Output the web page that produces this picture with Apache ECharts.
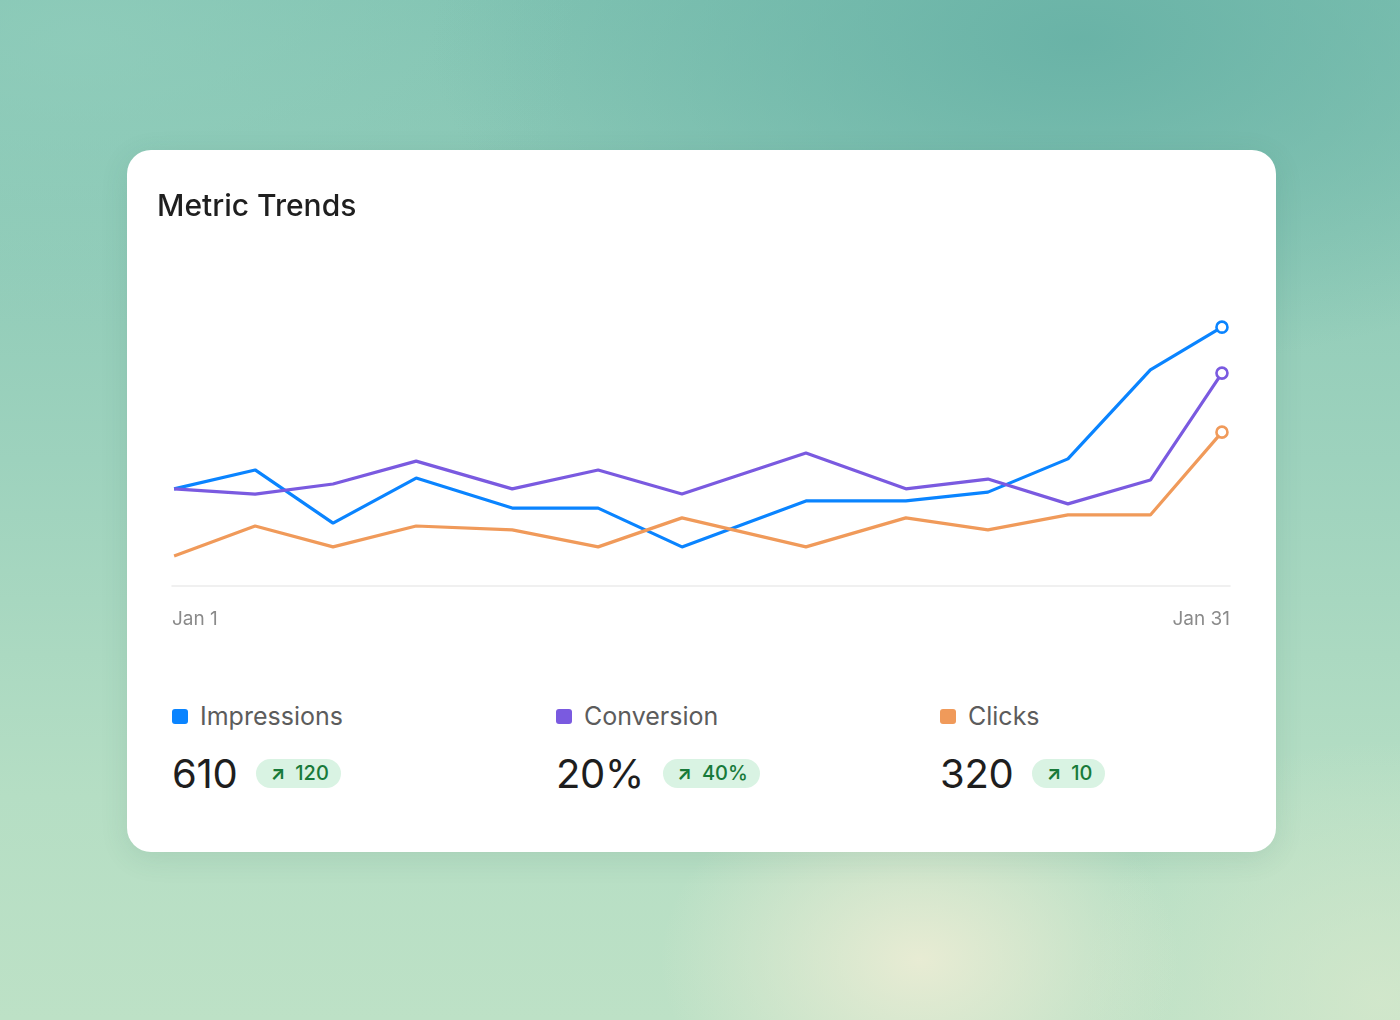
<!DOCTYPE html>
<html>
<head>
<meta charset="utf-8">
<title>Metric Trends</title>
<script src="https://cdn.jsdelivr.net/npm/echarts@6.0.0/dist/echarts.min.js"></script>
<style>
  html, body {
    margin: 0;
    padding: 0;
  }
  body {
    width: 1400px;
    height: 1020px;
    position: relative;
    overflow: hidden;
    font-family: Inter, "Noto Sans", sans-serif;
    background:
      radial-gradient(ellipse 260px 190px at 920px 960px, rgba(234, 236, 212, 0.95), rgba(234, 236, 212, 0) 100%),
      radial-gradient(ellipse 300px 260px at 1380px 1000px, rgba(214, 232, 204, 0.8), rgba(214, 232, 204, 0) 100%),
      radial-gradient(ellipse 650px 330px at 1080px 40px, rgba(104, 178, 166, 0.95), rgba(104, 178, 166, 0) 100%),
      radial-gradient(ellipse 500px 300px at 80px 40px, rgba(146, 206, 188, 0.7), rgba(146, 206, 188, 0) 100%),
      linear-gradient(180deg, #82c4b3 0%, #9dd2bd 45%, #b5dec4 78%, #bde1c6 100%);
  }
  #card {
    position: absolute;
    left: 127px;
    top: 150px;
    width: 1149px;
    height: 702px;
    background: #ffffff;
    border-radius: 24px;
    box-shadow: 0 6px 28px rgba(40, 100, 80, 0.12);
  }
  #chart {
    position: absolute;
    left: 0;
    top: 0;
    width: 1149px;
    height: 500px;
  }
  .stat {
    position: absolute;
    top: 551px;
  }
  .stat-name {
    display: flex;
    align-items: center;
    height: 30px;
    font-size: 25px;
    color: #5c5c5c;
  }
  .stat-name i {
    display: inline-block;
    width: 16px;
    height: 15px;
    border-radius: 3px;
    margin-right: 12px;
  }
  .stat-value {
    display: flex;
    align-items: center;
    height: 44px;
    margin-top: 20px;
  }
  .stat-value b {
    font-weight: 400;
    font-size: 40px;
    color: #1e1e1e;
    letter-spacing: -0.3px;
    margin-right: 19px;
  }
  .badge {
    display: inline-flex;
    align-items: center;
    height: 29px;
    padding: 0 12px 0 14px;
    border-radius: 15px;
    background: #d9f3e3;
    color: #187a3a;
    font-size: 20px;
    font-weight: 500;
  }
  .badge span {
    font-size: 19px;
    font-weight: 700;
    margin-right: 10px;
  }
</style>
</head>
<body>
<div id="card">
  <div id="chart"></div>
  <div id="stats"></div>
</div>
<script>
// x positions are days of January (Jan 1 .. Jan 31)
const days = [1, 3.32, 5.55, 7.93, 10.68, 13.14, 15.54, 19.09, 21.95, 24.3, 26.59, 28.95, 31];
const impressions = [29.8, 35.6, 19.3, 33.1, 23.9, 23.9, 12.0, 26.1, 26.1, 28.8, 39.0, 66.3, 79.4];
const conversion = [29.8, 28.2, 31.3, 38.3, 29.8, 35.6, 28.2, 40.8, 29.8, 32.8, 25.2, 32.5, 65.3];
const clicks = [9.2, 18.4, 12.0, 18.4, 17.2, 12.0, 20.9, 12.0, 20.9, 17.2, 21.8, 21.8, 47.2];
const xLabels = ['Jan 1', 'Jan 31'];

const metricNames = ['Impressions', 'Conversion', 'Clicks'];
const metricValues = ['610', '20%', '320'];
const metricDeltas = ['120', '40%', '10'];

const colors = ['#0a84ff', '#7a5ae0', '#f09a5a'];

const xMin = 0.94;
const xMax = 31.23;

function pairs(ys) {
    return ys.map((y, i) => [days[i], y]);
}

function lineSeries(name, ys, color) {
    const last = ys.length - 1;
    return {
        name: name,
        type: 'line',
        data: pairs(ys),
        showSymbol: true,
        symbol: 'circle',
        symbolSize: (val, params) => (params.dataIndex === last ? 11 : 0),
        lineStyle: { width: 3.2, color: color },
        itemStyle: { color: '#ffffff', borderColor: color, borderWidth: 2.6 },
        emphasis: { disabled: true },
        z: 3,
    };
}

const chart = echarts.init(document.getElementById('chart'));
chart.setOption({
    animation: false,
    textStyle: { fontFamily: 'Inter' },
    title: {
        text: 'Metric Trends',
        left: 25,
        top: 37,
        textStyle: {
            fontFamily: 'Inter',
            fontSize: 30,
            fontWeight: 500,
            color: '#1f1f1f',
        },
    },
    grid: {
        left: 45,
        right: 46,
        top: 110,
        bottom: 64,
    },
    xAxis: {
        type: 'value',
        min: xMin,
        max: xMax,
        axisLine: { show: true, lineStyle: { color: '#ececec', width: 1.5 } },
        axisTick: { show: false },
        splitLine: { show: false },
        axisLabel: {
            show: true,
            margin: 24,
            fontSize: 19,
            color: '#8a8a8a',
            showMinLabel: true,
            showMaxLabel: true,
            alignMinLabel: 'left',
            alignMaxLabel: 'right',
            formatter: (v) => {
                if (Math.abs(v - xMin) < 1e-6) return xLabels[0];
                if (Math.abs(v - xMax) < 1e-6) return xLabels[1];
                return '';
            },
        },
    },
    yAxis: {
        type: 'value',
        min: 0,
        max: 100,
        show: false,
        splitLine: { show: false },
    },
    tooltip: { show: false },
    series: [
        lineSeries(metricNames[0], impressions, colors[0]),
        lineSeries(metricNames[1], conversion, colors[1]),
        lineSeries(metricNames[2], clicks, colors[2]),
    ],
});

// stat blocks under the chart
const stats = document.getElementById('stats');
const colLeft = [45, 429, 813];
metricNames.forEach((name, i) => {
    const el = document.createElement('div');
    el.className = 'stat';
    el.style.left = colLeft[i] + 'px';
    el.innerHTML =
        '<div class="stat-name"><i style="background:' + colors[i] + '"></i>' + name + '</div>' +
        '<div class="stat-value"><b>' + metricValues[i] + '</b>' +
        '<div class="badge"><span>&#8599;</span>' + metricDeltas[i] + '</div></div>';
    stats.appendChild(el);
});
</script>
</body>
</html>
